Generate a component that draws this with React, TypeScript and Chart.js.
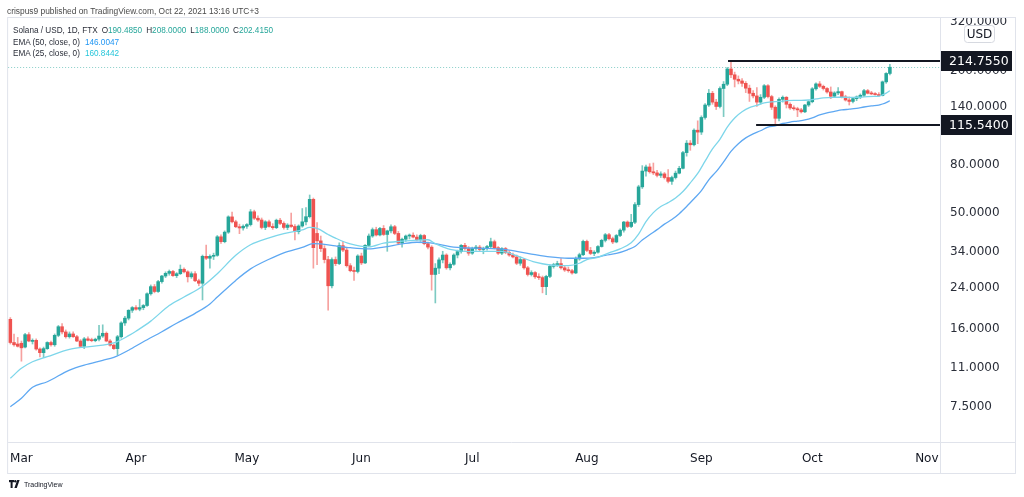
import React, { useEffect, useRef } from 'react';
import { Chart, registerables } from 'chart.js';

Chart.register(...registerables);

// Daily candles [open, high, low, close] for Solana / USD (FTX); day 0 = 26 Feb 2021
const FEB = [
  [17.3, 17.6, 13.6, 13.8], [13.8, 15.0, 13.3, 13.5], [13.6, 14.5, 13.2, 13.3],
];
const MAR = [
  [13.7, 14.0, 11.5, 13.1], [13.2, 15.1, 13.1, 14.9], [14.9, 15.2, 13.9, 14.0], [13.95, 14.3, 13.6, 14.1],
  [14.1, 14.3, 12.8, 12.95], [12.95, 13.1, 12.0, 12.5], [12.5, 13.2, 11.9, 13.0], [13.0, 13.9, 12.9, 13.8],
  [13.8, 14.0, 13.3, 13.5], [13.5, 15.0, 13.3, 14.8], [14.8, 16.3, 14.6, 16.1], [16.1, 16.6, 15.0, 15.3],
  [15.3, 15.6, 14.4, 14.6], [14.6, 15.3, 14.4, 15.0], [15.0, 15.3, 14.5, 14.6], [14.6, 14.8, 13.9, 14.0],
  [14.0, 14.2, 13.2, 13.3], [13.3, 14.5, 13.0, 14.3], [14.3, 14.6, 14.0, 14.1], [14.1, 14.4, 13.9, 14.05],
  [14.05, 14.4, 13.9, 14.25], [14.25, 16.3, 14.0, 14.7], [14.7, 16.4, 14.5, 15.1], [15.1, 15.3, 13.9, 14.0],
  [14.0, 14.2, 13.3, 13.45], [13.45, 13.6, 12.9, 13.0], [13.0, 14.8, 12.2, 14.6], [14.6, 16.9, 14.4, 16.7],
  [16.7, 17.8, 16.3, 17.5], [17.5, 19.0, 17.2, 18.9], [18.9, 19.6, 18.5, 19.4],
];
const APR = [
  [19.4, 19.8, 18.9, 19.1], [19.1, 21.0, 18.8, 19.4], [19.4, 20.0, 19.0, 19.8], [19.8, 22.4, 19.6, 22.2],
  [22.2, 24.2, 21.9, 23.8], [23.8, 24.3, 22.4, 22.7], [22.7, 25.3, 22.5, 25.0], [25.0, 26.6, 24.6, 26.4],
  [26.4, 27.5, 26.0, 27.1], [27.1, 28.0, 26.6, 27.6], [27.6, 27.9, 26.3, 26.5], [26.5, 27.3, 26.0, 27.0],
  [27.0, 29.4, 26.8, 28.2], [28.2, 28.6, 27.2, 27.5], [27.5, 27.8, 24.9, 26.2], [26.2, 27.5, 25.8, 27.0],
  [27.0, 27.6, 25.0, 25.2], [25.2, 25.6, 24.0, 24.6], [24.6, 32.4, 20.9, 32.0], [32.0, 35.7, 31.0, 31.4],
  [31.4, 32.5, 28.5, 32.0], [32.0, 33.0, 31.0, 32.3], [32.3, 39.2, 32.0, 38.7], [38.7, 39.5, 36.3, 36.9],
  [36.9, 41.0, 36.5, 40.5], [40.5, 47.5, 40.0, 47.0], [47.0, 49.3, 44.3, 44.8], [44.8, 45.5, 42.3, 42.7],
  [42.7, 43.8, 39.9, 42.2], [42.2, 43.5, 41.3, 42.9],
];
const MAY = [
  [42.9, 44.0, 42.0, 43.6], [43.6, 50.5, 43.0, 49.4], [49.4, 50.2, 45.8, 46.4], [46.4, 47.5, 45.0, 45.6],
  [45.6, 46.5, 41.8, 42.4], [42.4, 45.3, 41.5, 44.8], [44.8, 45.6, 42.5, 42.8], [42.8, 44.0, 41.6, 42.3],
  [42.3, 46.0, 41.9, 45.5], [45.5, 46.3, 43.6, 44.1], [44.1, 44.8, 41.7, 42.4], [42.4, 44.0, 41.5, 43.4],
  [43.4, 48.8, 42.4, 42.8], [42.8, 43.6, 37.5, 40.7], [40.7, 43.5, 39.8, 43.0], [43.0, 51.0, 42.5, 44.8],
  [44.8, 51.5, 43.5, 47.1], [47.1, 58.2, 46.5, 55.8], [55.8, 56.5, 28.5, 34.8], [40.0, 44.5, 29.5, 37.2],
  [37.2, 39.0, 33.5, 34.5], [34.5, 35.5, 30.0, 31.0], [31.0, 32.0, 18.9, 24.0], [24.0, 31.5, 23.5, 31.0],
  [31.0, 31.8, 29.2, 29.8], [29.8, 36.5, 29.5, 35.5], [35.5, 37.0, 33.5, 34.0], [34.0, 34.8, 28.8, 29.2],
  [29.2, 29.8, 27.5, 27.8], [27.8, 28.8, 25.3, 27.6], [27.6, 32.5, 27.2, 32.1],
];
const JUN = [
  [32.1, 33.0, 29.5, 30.0], [30.0, 35.9, 29.8, 35.6], [35.6, 39.8, 35.2, 39.0], [39.0, 42.2, 38.5, 41.5],
  [41.5, 42.5, 39.0, 39.4], [39.4, 42.5, 39.0, 42.0], [42.0, 43.2, 39.2, 39.6], [39.6, 41.3, 33.6, 41.0],
  [41.0, 43.5, 40.2, 42.7], [42.7, 43.3, 39.5, 40.0], [40.0, 40.8, 35.8, 36.4], [36.4, 38.2, 35.0, 37.8],
  [37.8, 39.4, 37.0, 39.0], [39.0, 39.8, 37.9, 39.3], [39.3, 40.2, 38.3, 38.6], [38.6, 39.5, 37.3, 37.6],
  [37.6, 39.7, 37.0, 39.2], [39.2, 39.6, 35.8, 36.2], [36.2, 36.8, 34.4, 35.0], [35.0, 35.5, 23.0, 26.8],
  [26.8, 29.8, 20.3, 28.5], [28.5, 31.5, 27.0, 30.9], [30.9, 33.6, 30.0, 32.4], [32.4, 32.8, 28.2, 28.6],
  [28.6, 30.0, 28.0, 29.6], [29.6, 32.8, 29.3, 32.4], [32.4, 34.0, 31.5, 33.5], [33.5, 35.9, 33.0, 35.6],
  [35.6, 36.3, 34.0, 34.5], [34.5, 35.2, 32.3, 33.0],
];
const JUL = [
  [33.0, 35.0, 32.6, 34.5], [34.5, 35.6, 34.0, 35.0], [35.0, 35.6, 33.8, 34.2], [34.2, 35.0, 32.8, 34.6],
  [34.6, 35.6, 34.0, 35.2], [35.2, 38.2, 34.8, 36.9], [36.9, 37.5, 34.4, 34.8], [34.8, 35.2, 32.6, 33.0],
  [33.0, 34.8, 32.5, 34.5], [34.5, 34.9, 32.8, 33.2], [33.2, 33.8, 32.0, 32.4], [32.4, 33.0, 31.5, 31.8],
  [31.8, 32.4, 29.5, 29.9], [29.9, 31.8, 29.3, 31.0], [31.0, 31.4, 28.2, 28.6], [28.6, 29.0, 26.4, 26.8],
  [26.8, 27.8, 26.4, 27.3], [27.3, 27.6, 25.8, 26.2], [26.2, 27.0, 25.5, 26.0], [26.0, 26.4, 22.4, 23.8],
  [23.8, 26.6, 22.0, 26.3], [26.3, 29.5, 26.0, 29.0], [29.0, 29.9, 28.5, 29.5], [29.5, 30.5, 29.0, 29.8],
  [29.8, 31.3, 28.2, 28.6], [28.6, 29.3, 27.6, 28.0], [28.0, 28.8, 27.4, 27.8], [27.8, 28.2, 26.9, 27.2],
  [27.2, 31.8, 27.0, 31.2], [31.2, 33.0, 30.8, 32.5], [32.5, 37.5, 32.2, 37.0],
];
const AUG = [
  [37.0, 37.5, 33.5, 33.9], [33.9, 34.9, 32.5, 32.9], [32.9, 33.8, 32.2, 33.3], [33.3, 35.5, 33.0, 35.2],
  [35.2, 37.8, 35.0, 37.4], [37.4, 40.0, 36.8, 39.5], [39.5, 40.0, 37.5, 38.0], [38.0, 38.6, 36.2, 36.8],
  [36.8, 39.6, 36.5, 39.2], [39.2, 41.8, 38.8, 41.3], [41.3, 45.0, 40.5, 44.7], [44.7, 45.2, 42.3, 42.8],
  [42.8, 48.2, 42.3, 44.6], [44.6, 54.0, 44.0, 53.0], [53.0, 64.0, 52.0, 63.0], [63.0, 77.5, 62.0, 73.5],
  [73.5, 78.0, 70.0, 76.5], [76.5, 79.0, 72.0, 73.0], [73.0, 79.5, 71.0, 72.2], [72.2, 74.0, 69.5, 70.5],
  [70.5, 73.0, 69.0, 71.5], [71.5, 72.5, 68.0, 69.0], [69.0, 74.5, 65.5, 66.5], [66.5, 70.0, 64.5, 69.0],
  [69.0, 73.5, 68.0, 72.0], [72.0, 77.0, 71.5, 75.5], [75.5, 89.0, 75.0, 88.0], [88.0, 99.0, 85.0, 96.5],
  [96.5, 99.0, 90.0, 95.0], [95.0, 111.0, 94.0, 109.5], [109.5, 120.0, 96.0, 107.5],
];
const SEP = [
  [107.5, 126.0, 105.0, 124.0], [124.0, 142.0, 122.0, 140.0], [140.0, 163.0, 138.0, 157.0], [157.0, 160.0, 141.0, 144.0],
  [144.0, 148.0, 134.0, 138.0], [138.0, 167.0, 136.0, 164.5], [164.5, 176.0, 125.0, 171.5], [171.5, 202.0, 169.0, 199.0],
  [199.0, 214.755, 183.0, 188.0], [188.0, 193.0, 167.0, 180.0], [180.0, 186.0, 172.0, 177.0], [177.0, 181.0, 168.0, 173.0],
  [173.0, 176.0, 158.0, 165.0], [165.0, 170.0, 145.0, 157.0], [157.0, 161.0, 150.0, 153.0], [153.0, 166.0, 138.0, 144.0],
  [144.0, 155.0, 141.0, 151.0], [151.0, 171.0, 149.0, 169.0], [169.0, 171.0, 150.0, 152.0], [152.0, 154.0, 134.0, 137.0],
  [137.0, 139.0, 115.54, 123.0], [123.0, 150.0, 120.0, 148.0], [148.0, 153.0, 144.0, 151.0], [151.0, 152.0, 136.0, 141.0],
  [141.0, 143.0, 134.0, 136.0], [136.0, 139.0, 133.0, 135.0], [135.0, 137.0, 125.0, 133.5], [133.5, 135.5, 129.5, 131.0],
  [131.0, 141.0, 130.0, 140.0], [140.0, 146.0, 138.0, 144.6],
];
const OCT = [
  [144.6, 166.0, 143.0, 164.0], [164.0, 174.0, 162.0, 172.0], [172.0, 176.0, 166.0, 168.0], [168.0, 170.0, 162.0, 164.5],
  [164.5, 166.0, 157.0, 159.0], [159.0, 167.0, 149.0, 152.5], [152.5, 159.5, 151.0, 157.5], [157.5, 166.0, 155.0, 159.5],
  [159.5, 160.5, 150.0, 151.5], [151.5, 154.0, 145.5, 147.0], [147.0, 151.5, 140.0, 145.0], [145.0, 150.0, 143.0, 149.0],
  [149.0, 153.0, 146.0, 151.5], [151.5, 156.0, 149.0, 154.0], [154.0, 163.0, 152.0, 161.0], [161.0, 163.0, 156.0, 157.0],
  [157.0, 160.0, 155.0, 156.0], [156.0, 158.0, 154.0, 155.0], [155.0, 158.0, 152.0, 153.5], [153.5, 177.0, 153.0, 175.5],
  [175.5, 192.0, 173.0, 190.485], [190.485, 208.0, 188.0, 202.415],
];
const CANDLES = [...FEB, ...MAR, ...APR, ...MAY, ...JUN, ...JUL, ...AUG, ...SEP, ...OCT];

// Time axis: day index of the 1st of each month, and its label
const MONTH_DAYS = [3, 34, 64, 95, 125, 156, 187, 217, 248];
const MONTH_LABELS = ['Mar', 'Apr', 'May', 'Jun', 'Jul', 'Aug', 'Sep', 'Oct', 'Nov'];
// Price axis labels
const PRICE_TICKS = [7.5, 11, 16, 24, 34, 50, 80, 140, 200, 320];

// EMA (25, close): [day index, value]
const EMA25_POINTS = [
  [0, 9.73], [3, 10.73], [6, 11.44], [10, 12.02], [16, 12.91], [20, 13.2], [25, 13.45], [29, 13.93],
  [32, 14.75], [34, 15.41], [38, 17.0], [43, 19.8], [47, 21.5], [52, 23.9], [56, 27.0], [61, 32.3],
  [65, 35.8], [70, 38.3], [74, 39.9], [79, 41.4], [81, 42.4], [83, 42.0], [86, 39.6], [88, 38.2],
  [92, 36.1], [97, 35.1], [101, 36.4], [106, 37.1], [110, 37.5], [113, 37.6], [115, 36.2], [119, 34.2],
  [124, 33.5], [128, 33.6], [133, 33.6], [137, 32.2], [142, 30.2], [146, 29.4], [151, 29.2], [154, 29.9],
  [156, 31.0], [159, 31.7], [162, 33.1], [165, 34.4], [168, 36.5], [170, 39.7], [172, 44.9], [174, 49.0],
  [176, 52.0], [178, 54.0], [180, 56.5], [182, 60.2], [184, 65.5], [186, 71.8], [188, 81.0], [190, 91.2],
  [192, 100.2], [194, 112.9], [196, 123.4], [198, 131.0], [200, 136.5], [202, 139.5], [204, 143.0], [206, 144.5],
  [208, 145.0], [210, 146.0], [212, 146.5], [214, 146.5], [216, 147.0], [218, 148.5], [220, 150.0], [222, 150.5],
  [224, 151.0], [226, 151.0], [228, 150.8], [230, 151.0], [232, 152.0], [234, 152.3], [235, 152.5], [236, 154.5],
  [237, 157.3], [238, 160.8442],
];
// EMA (50, close): [day index, value]
const EMA50_POINTS = [
  [0, 7.38], [3, 8.01], [6, 8.92], [10, 9.41], [16, 10.55], [20, 11.08], [25, 11.6], [28, 11.94],
  [32, 12.8], [36, 13.9], [41, 15.33], [45, 16.65], [50, 18.34], [54, 20.1], [56, 21.5], [61, 25.3],
  [65, 28.3], [70, 31.1], [74, 33.1], [79, 34.9], [82, 36.2], [84, 36.1], [88, 35.4], [92, 34.8],
  [97, 34.4], [101, 35.0], [106, 36.1], [110, 36.7], [113, 36.6], [115, 36.2], [119, 35.2], [124, 34.7],
  [128, 34.6], [133, 34.3], [137, 33.6], [142, 32.5], [146, 31.8], [151, 31.4], [155, 31.4], [158, 31.6],
  [161, 32.3], [164, 32.9], [167, 34.1], [169, 35.2], [171, 37.5], [173, 39.5], [175, 41.5], [177, 43.8],
  [179, 45.8], [181, 48.5], [183, 52.0], [185, 56.1], [187, 60.7], [189, 67.5], [191, 73.1], [193, 80.4],
  [195, 89.1], [197, 96.0], [199, 101.6], [201, 105.7], [203, 108.9], [205, 112.8], [207, 114.2], [209, 116.9],
  [211, 118.5], [213, 119.7], [215, 121.0], [217, 123.5], [219, 127.1], [221, 129.8], [223, 131.6], [225, 133.4],
  [227, 134.4], [229, 135.6], [231, 137.3], [233, 138.8], [235, 140.0], [236, 141.4], [237, 143.3], [238, 146.0047],
];

const LAST_PRICE = 202.415;
// Horizontal rays: price level and the day they start from
const LEVELS = [
  { price: 214.755, fromDay: 194.2 },
  { price: 115.54, fromDay: 201.8 },
];

const X_RANGE = [-0.6, 251.56];
const Y_RANGE = [5.228, 327.2];

const UP = '#26a69a';
const DOWN = '#ef5350';
const UP_WICK = 'rgba(38,166,154,0.6)';
const DOWN_WICK = 'rgba(239,83,80,0.55)';
const EMA25_COLOR = '#7dd6ea';
const EMA50_COLOR = '#5ea8f2';
const AXIS_FONT = '"DejaVu Sans", Verdana, sans-serif';
const TEXT_FONT = '"Liberation Sans", Arial, sans-serif';

const overlayPlugin = {
  id: 'tvOverlay',
  beforeDatasetsDraw(chart: any) {
    const { ctx, chartArea: a, scales } = chart;
    const yp = Math.round(scales.y.getPixelForValue(LAST_PRICE)) + 0.5;
    ctx.save();
    ctx.strokeStyle = 'rgba(38,166,154,0.55)';
    ctx.lineWidth = 1;
    ctx.setLineDash([1, 2]);
    ctx.beginPath();
    ctx.moveTo(a.left, yp);
    ctx.lineTo(a.right, yp);
    ctx.stroke();
    ctx.restore();
  },
  afterDraw(chart: any) {
    const { ctx, chartArea: a, scales } = chart;
    const xs = scales.x;
    const ys = scales.y;
    const right = a.right + ys.width;
    const bottom = a.bottom + xs.height;
    ctx.save();
    // hide the part of the top axis label that sits above the pane
    ctx.fillStyle = '#ffffff';
    ctx.fillRect(a.right + 1, 0, chart.width - a.right - 1, a.top);
    // frame and separators
    ctx.strokeStyle = '#e0e3eb';
    ctx.lineWidth = 1;
    ctx.strokeRect(a.left - 0.5, a.top - 0.5, right - a.left + 1, bottom - a.top + 1);
    ctx.beginPath();
    ctx.moveTo(a.right + 0.5, a.top);
    ctx.lineTo(a.right + 0.5, bottom);
    ctx.moveTo(a.left, a.bottom + 0.5);
    ctx.lineTo(right, a.bottom + 0.5);
    ctx.stroke();
    // horizontal rays with their price labels
    LEVELS.forEach((l) => {
      const py = Math.round(ys.getPixelForValue(l.price));
      const px = xs.getPixelForValue(l.fromDay);
      ctx.strokeStyle = '#131722';
      ctx.lineWidth = 2;
      ctx.beginPath();
      ctx.moveTo(px, py);
      ctx.lineTo(a.right, py);
      ctx.stroke();
      ctx.fillStyle = '#131722';
      ctx.fillRect(a.right + 1, py - 10, 71, 20);
      ctx.fillStyle = '#ffffff';
      ctx.font = '12.5px ' + AXIS_FONT;
      ctx.textAlign = 'left';
      ctx.textBaseline = 'middle';
      ctx.fillText(l.price.toFixed(4), a.right + 9, py + 1);
    });
    // currency badge
    const bx = a.right + 24.5;
    const by = a.top + 7.5;
    ctx.fillStyle = '#ffffff';
    ctx.strokeStyle = '#d6d9e0';
    ctx.lineWidth = 1;
    ctx.beginPath();
    if (ctx.roundRect) ctx.roundRect(bx, by, 30, 17, 3);
    else ctx.rect(bx, by, 30, 17);
    ctx.fill();
    ctx.stroke();
    ctx.fillStyle = '#131722';
    ctx.font = '12px ' + AXIS_FONT;
    ctx.textAlign = 'center';
    ctx.textBaseline = 'middle';
    ctx.fillText('USD', bx + 15, by + 9);
    ctx.restore();
  },
};

export default function App() {
  const ref = useRef<HTMLCanvasElement>(null);

  useEffect(() => {
    const canvas = ref.current;
    if (!canvas) return;
    const wicks = CANDLES.map((c, i) => ({ x: i, y: [c[2], c[1]] }));
    const bodies = CANDLES.map((c, i) => ({ x: i, y: [Math.min(c[0], c[3]), Math.max(c[0], c[3])] }));
    const bodyColors = CANDLES.map((c) => (c[3] >= c[0] ? UP : DOWN));
    const wickColors = CANDLES.map((c) => (c[3] >= c[0] ? UP_WICK : DOWN_WICK));

    const chart = new Chart(canvas, {
      type: 'bar',
      data: {
        datasets: [
          {
            type: 'bar',
            label: 'wicks',
            data: wicks as any,
            backgroundColor: wickColors,
            barThickness: 1,
            grouped: false,
            borderWidth: 0,
            order: 4,
          } as any,
          {
            type: 'bar',
            label: 'bodies',
            data: bodies as any,
            backgroundColor: bodyColors,
            barThickness: 2.9,
            minBarLength: 1,
            grouped: false,
            borderWidth: 0,
            order: 3,
          } as any,
          {
            type: 'line',
            label: 'EMA (50, close, 0)',
            data: EMA50_POINTS.map(([x, y]) => ({ x, y })) as any,
            borderColor: EMA50_COLOR,
            borderWidth: 1.3,
            pointRadius: 0,
            cubicInterpolationMode: 'monotone',
            order: 2,
          } as any,
          {
            type: 'line',
            label: 'EMA (25, close, 0)',
            data: EMA25_POINTS.map(([x, y]) => ({ x, y })) as any,
            borderColor: EMA25_COLOR,
            borderWidth: 1.3,
            pointRadius: 0,
            cubicInterpolationMode: 'monotone',
            order: 1,
          } as any,
        ],
      },
      options: {
        animation: false,
        responsive: false,
        devicePixelRatio: 1,
        layout: { padding: { left: 7, top: 18, right: 9, bottom: 24 } },
        plugins: { legend: { display: false }, tooltip: { enabled: false }, title: { display: false } },
        scales: {
          x: {
            type: 'linear',
            min: X_RANGE[0],
            max: X_RANGE[1],
            bounds: 'data',
            offset: false,
            grid: { display: false, drawTicks: false },
            border: { display: false },
            afterBuildTicks: (s: any) => {
              s.ticks = MONTH_DAYS.map((v) => ({ value: v }));
            },
            afterFit: (s: any) => {
              s.height = 31;
            },
            ticks: {
              autoSkip: false,
              maxRotation: 0,
              minRotation: 0,
              padding: 10,
              color: '#131722',
              font: { family: AXIS_FONT, size: 12 },
              callback: (v: any) => {
                const k = MONTH_DAYS.indexOf(Number(v));
                return k >= 0 ? MONTH_LABELS[k] : '';
              },
            },
          },
          y: {
            type: 'logarithmic',
            position: 'right',
            min: Y_RANGE[0],
            max: Y_RANGE[1],
            bounds: 'data',
            grid: { display: false, drawTicks: false },
            border: { display: false },
            afterBuildTicks: (s: any) => {
              s.ticks = PRICE_TICKS.map((v) => ({ value: v }));
            },
            afterFit: (s: any) => {
              s.width = 75;
            },
            ticks: {
              autoSkip: false,
              padding: 10,
              labelOffset: 2,
              color: '#2a2e39',
              font: { family: AXIS_FONT, size: 12 },
              callback: (v: any) => Number(v).toFixed(4),
            },
          },
        },
      } as any,
      plugins: [overlayPlugin as any],
    });
    return () => chart.destroy();
  }, []);

  const last = CANDLES[CANDLES.length - 1];
  const ema50Last = EMA50_POINTS[EMA50_POINTS.length - 1][1];
  const ema25Last = EMA25_POINTS[EMA25_POINTS.length - 1][1];
  const label = { color: '#2a2e39' };
  const green = { color: UP };

  return (
    <div
      style={{
        position: 'fixed',
        left: 0,
        top: 0,
        width: 1024,
        height: 497,
        background: '#ffffff',
        overflow: 'hidden',
      }}
    >
      <canvas ref={ref} width={1024} height={497} style={{ display: 'block', width: 1024, height: 497 }} />
      <div
        style={{
          position: 'absolute',
          left: 7,
          top: 6,
          font: '8.4px ' + TEXT_FONT,
          lineHeight: '11px',
          color: '#4a4a4a',
          whiteSpace: 'nowrap',
        }}
      >
        crispus9 published on TradingView.com, Oct 22, 2021 13:16 UTC+3
      </div>
      <div
        style={{
          position: 'absolute',
          left: 13,
          top: 25,
          font: '8.2px ' + TEXT_FONT,
          lineHeight: '11px',
          whiteSpace: 'nowrap',
        }}
      >
        <span style={label}>Solana / USD, 1D, FTX</span>
        <span style={{ ...label, marginLeft: 4 }}>O</span>
        <span style={green}>{last[0].toFixed(4)}</span>
        <span style={{ ...label, marginLeft: 4 }}>H</span>
        <span style={green}>{last[1].toFixed(4)}</span>
        <span style={{ ...label, marginLeft: 4 }}>L</span>
        <span style={green}>{last[2].toFixed(4)}</span>
        <span style={{ ...label, marginLeft: 4 }}>C</span>
        <span style={green}>{last[3].toFixed(4)}</span>
      </div>
      <div
        style={{
          position: 'absolute',
          left: 13,
          top: 37,
          font: '8.2px ' + TEXT_FONT,
          lineHeight: '11px',
          whiteSpace: 'nowrap',
        }}
      >
        <span style={label}>EMA (50, close, 0)</span>
        <span style={{ color: '#2196f3', marginLeft: 5 }}>{ema50Last.toFixed(4)}</span>
      </div>
      <div
        style={{
          position: 'absolute',
          left: 13,
          top: 48,
          font: '8.2px ' + TEXT_FONT,
          lineHeight: '11px',
          whiteSpace: 'nowrap',
        }}
      >
        <span style={label}>EMA (25, close, 0)</span>
        <span style={{ color: '#26c6da', marginLeft: 5 }}>{ema25Last.toFixed(4)}</span>
      </div>
      <div
        style={{
          position: 'absolute',
          left: 9,
          top: 480,
          display: 'flex',
          alignItems: 'center',
          whiteSpace: 'nowrap',
        }}
      >
        <svg width="12" height="8" viewBox="0 0 12 8" style={{ display: 'block' }}>
          <rect x="0" y="0" width="5" height="2.2" fill="#131722" />
          <rect x="1.6" y="0" width="2" height="8" fill="#131722" />
          <circle cx="6.3" cy="1.3" r="1.2" fill="#131722" />
          <polygon points="8.2,0 10.6,0 7.8,8 5.4,8" fill="#131722" />
        </svg>
        <span style={{ marginLeft: 3, font: '7px ' + TEXT_FONT, color: '#131722' }}>TradingView</span>
      </div>
    </div>
  );
}
